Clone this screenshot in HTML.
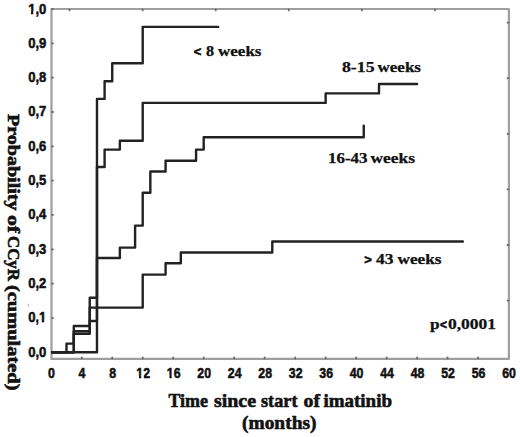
<!DOCTYPE html>
<html><head><meta charset="utf-8"><style>
html,body{margin:0;padding:0;background:#fff;}
body{width:520px;height:437px;overflow:hidden;}
svg{display:block;}
.sans{font-family:"Liberation Sans",sans-serif;font-weight:700;font-size:14.5px;fill:#111;stroke:#111;stroke-width:0.55px;stroke-linejoin:round;}
.serif{font-family:"Liberation Serif",serif;font-weight:700;fill:#111;stroke:#111;stroke-width:0.6px;stroke-linejoin:round;}
.serif text[font-size="13.8"]{stroke-width:0.25px;}
</style></head><body>
<svg width="520" height="437" viewBox="0 0 520 437">
<defs><clipPath id="cy1" clipPathUnits="userSpaceOnUse"><path clip-rule="evenodd" d="M-20,-30H60V20H-20Z M11.59,-2.4H15.17V2.5H11.59Z M17.77,-2.4H20.79V2.5H17.77Z"/></clipPath><clipPath id="cy10" clipPathUnits="userSpaceOnUse"><path clip-rule="evenodd" d="M-20,-30H60V20H-20Z M-0.50,-2.4H3.08V2.5H-0.50Z M5.68,-2.4H8.70V2.5H5.68Z"/></clipPath><clipPath id="cx12" clipPathUnits="userSpaceOnUse"><path clip-rule="evenodd" d="M-20,-30H60V20H-20Z M-0.50,-2.4H3.08V2.5H-0.50Z M5.68,-2.4H8.70V2.5H5.68Z"/></clipPath><clipPath id="cx16" clipPathUnits="userSpaceOnUse"><path clip-rule="evenodd" d="M-20,-30H60V20H-20Z M-0.50,-2.4H3.08V2.5H-0.50Z M5.68,-2.4H8.70V2.5H5.68Z"/></clipPath></defs>
<rect x="51.5" y="9.0" width="457.4" height="349.9" fill="none" stroke="#9e9e9e" stroke-width="2.2" stroke-linejoin="round"/>
<line x1="28.3" y1="303.8" x2="28.3" y2="306.6" stroke="#b0b0b0" stroke-width="1.1"/>
<g stroke="#6a6a6a" stroke-width="1.8" stroke-linecap="round"><line x1="52.0" x2="53.0" y1="352.25" y2="352.25"/><line x1="52.0" x2="53.0" y1="317.93" y2="317.93"/><line x1="52.0" x2="53.0" y1="283.60" y2="283.60"/><line x1="52.0" x2="53.0" y1="249.28" y2="249.28"/><line x1="52.0" x2="53.0" y1="214.95" y2="214.95"/><line x1="52.0" x2="53.0" y1="180.62" y2="180.62"/><line x1="52.0" x2="53.0" y1="146.30" y2="146.30"/><line x1="52.0" x2="53.0" y1="111.98" y2="111.98"/><line x1="52.0" x2="53.0" y1="77.65" y2="77.65"/><line x1="52.0" x2="53.0" y1="43.32" y2="43.32"/><line x1="52.0" x2="53.0" y1="9.00" y2="9.00"/><line x1="81.74" x2="81.74" y1="358.4" y2="357.5"/><line x1="112.23" x2="112.23" y1="358.4" y2="357.5"/><line x1="142.71" x2="142.71" y1="358.4" y2="357.5"/><line x1="173.20" x2="173.20" y1="358.4" y2="357.5"/><line x1="203.69" x2="203.69" y1="358.4" y2="357.5"/><line x1="234.18" x2="234.18" y1="358.4" y2="357.5"/><line x1="264.67" x2="264.67" y1="358.4" y2="357.5"/><line x1="295.15" x2="295.15" y1="358.4" y2="357.5"/><line x1="325.64" x2="325.64" y1="358.4" y2="357.5"/><line x1="356.13" x2="356.13" y1="358.4" y2="357.5"/><line x1="386.62" x2="386.62" y1="358.4" y2="357.5"/><line x1="417.11" x2="417.11" y1="358.4" y2="357.5"/><line x1="447.59" x2="447.59" y1="358.4" y2="357.5"/><line x1="478.08" x2="478.08" y1="358.4" y2="357.5"/><line x1="69.50" x2="69.50" y1="9.5" y2="10.4"/><line x1="142.60" x2="142.60" y1="9.5" y2="10.4"/><line x1="215.70" x2="215.70" y1="9.5" y2="10.4"/><line x1="288.80" x2="288.80" y1="9.5" y2="10.4"/><line x1="361.90" x2="361.90" y1="9.5" y2="10.4"/><line x1="435.00" x2="435.00" y1="9.5" y2="10.4"/><line x1="508.4" x2="507.5" y1="22.60" y2="22.60"/><line x1="508.4" x2="507.5" y1="78.20" y2="78.20"/><line x1="508.4" x2="507.5" y1="133.80" y2="133.80"/><line x1="508.4" x2="507.5" y1="189.40" y2="189.40"/><line x1="508.4" x2="507.5" y1="245.00" y2="245.00"/><line x1="508.4" x2="507.5" y1="300.60" y2="300.60"/></g>
<g fill="none" stroke="#222" stroke-width="2.4" stroke-linejoin="round" stroke-linecap="round">
<path d="M52.30,352.25 H96.98 V98.90 H104.60 V81.30 H112.23 V63.20 H142.71 V26.90 H218.17"/>
<path d="M52.30,352.25 H66.49 V343.60 H73.81 V326.00 H89.74 V297.70 H96.98 V167.00 H104.60 V149.60 H119.85 V140.70 H142.71 V102.90 H325.64 V93.40 H379.00 V84.00 H417.11"/>
<path d="M52.30,352.25 H73.81 V331.30 H89.74 V321.00 H96.98 V258.00 H119.85 V247.60 H135.09 V225.60 H142.71 V192.80 H150.34 V171.50 H165.58 V160.70 H196.07 V149.60 H203.69 V137.30 H363.75 V125.60"/>
<path d="M52.30,352.25 H73.81 V333.70 H89.74 V307.60 H142.71 V274.60 H165.58 V263.30 H180.82 V252.50 H272.29 V241.50 H462.84"/>
</g>
<g class="sans">
<text transform="translate(28.16,356.75) scale(0.9,1)">0,0</text>
<text transform="translate(28.16,322.43) scale(0.9,1)" clip-path="url(#cy1)">0,1</text>
<text transform="translate(28.16,288.10) scale(0.9,1)">0,2</text>
<text transform="translate(28.16,253.78) scale(0.9,1)">0,3</text>
<text transform="translate(28.16,219.45) scale(0.9,1)">0,4</text>
<text transform="translate(28.16,185.12) scale(0.9,1)">0,5</text>
<text transform="translate(28.16,150.80) scale(0.9,1)">0,6</text>
<text transform="translate(28.16,116.48) scale(0.9,1)">0,7</text>
<text transform="translate(28.16,82.15) scale(0.9,1)">0,8</text>
<text transform="translate(28.16,47.82) scale(0.9,1)">0,9</text>
<text transform="translate(28.16,13.50) scale(0.9,1)" clip-path="url(#cy10)">1,0</text>
<text transform="translate(48.02,378.00) scale(0.85,1)">0</text>
<text transform="translate(78.51,378.00) scale(0.85,1)">4</text>
<text transform="translate(109.30,378.00) scale(0.85,1)">8</text>
<text transform="translate(136.36,378.00) scale(0.85,1)" clip-path="url(#cx12)">12</text>
<text transform="translate(166.85,378.00) scale(0.85,1)" clip-path="url(#cx16)">16</text>
<text transform="translate(197.34,378.00) scale(0.85,1)">20</text>
<text transform="translate(227.82,378.00) scale(0.85,1)">24</text>
<text transform="translate(258.31,378.00) scale(0.85,1)">28</text>
<text transform="translate(288.80,378.00) scale(0.85,1)">32</text>
<text transform="translate(319.29,378.00) scale(0.85,1)">36</text>
<text transform="translate(349.78,378.00) scale(0.85,1)">40</text>
<text transform="translate(380.26,378.00) scale(0.85,1)">44</text>
<text transform="translate(410.75,378.00) scale(0.85,1)">48</text>
<text transform="translate(441.24,378.00) scale(0.85,1)">52</text>
<text transform="translate(471.73,378.00) scale(0.85,1)">56</text>
<text transform="translate(502.22,378.00) scale(0.85,1)">60</text>
</g>
<g class="serif">
<text x="168.48" y="406.50" font-size="19.3" textLength="39.55" lengthAdjust="spacingAndGlyphs">Time</text>
<text x="213.97" y="406.50" font-size="19.3" textLength="42.05" lengthAdjust="spacingAndGlyphs">since</text>
<text x="261.00" y="406.50" font-size="19.3" textLength="36.51" lengthAdjust="spacingAndGlyphs">start</text>
<text x="303.49" y="406.50" font-size="19.3" textLength="16.51" lengthAdjust="spacingAndGlyphs">of</text>
<text x="323.48" y="406.50" font-size="19.3" textLength="68.53" lengthAdjust="spacingAndGlyphs">imatinib</text>
<text x="241.98" y="428.70" font-size="19.3" textLength="74.53" lengthAdjust="spacingAndGlyphs">(months)</text>
<text transform="translate(8.10,113.99) rotate(90)" font-size="16.3" textLength="96.52" lengthAdjust="spacingAndGlyphs">Probability</text>
<text transform="translate(8.10,214.98) rotate(90)" font-size="16.3" textLength="18.02" lengthAdjust="spacingAndGlyphs">of</text>
<text transform="translate(8.10,235.99) rotate(90)" font-size="16.3" textLength="45.01" lengthAdjust="spacingAndGlyphs">CCyR</text>
<text transform="translate(8.10,284.98) rotate(90)" font-size="16.3" textLength="105.53" lengthAdjust="spacingAndGlyphs">(cumulated)</text>
<text x="205.91" y="56.20" font-size="13.8" textLength="8.09" lengthAdjust="spacingAndGlyphs">8</text>
<text x="218.00" y="56.20" font-size="13.8" textLength="43.50" lengthAdjust="spacingAndGlyphs">weeks</text>
<text x="341.99" y="71.90" font-size="13.8" textLength="32.53" lengthAdjust="spacingAndGlyphs">8-15</text>
<text x="377.49" y="71.90" font-size="13.8" textLength="43.51" lengthAdjust="spacingAndGlyphs">weeks</text>
<text x="327.95" y="163.40" font-size="13.8" textLength="39.59" lengthAdjust="spacingAndGlyphs">16-43</text>
<text x="370.49" y="163.40" font-size="13.8" textLength="44.52" lengthAdjust="spacingAndGlyphs">weeks</text>
<text x="376.00" y="264.40" font-size="13.8" textLength="17.53" lengthAdjust="spacingAndGlyphs">43</text>
<text x="397.49" y="264.40" font-size="13.8" textLength="44.01" lengthAdjust="spacingAndGlyphs">weeks</text>
<text x="429.92" y="329.00" font-size="13.8" textLength="9.62" lengthAdjust="spacingAndGlyphs">p</text>
<text x="447.99" y="329.00" font-size="13.8" textLength="48.05" lengthAdjust="spacingAndGlyphs">0,0001</text>
</g>
<g style="font-family:'Liberation Sans',sans-serif;font-weight:700;fill:#111;stroke:#111;stroke-width:0.55px;stroke-linejoin:round;">
<text x="193.84" y="56.15" font-size="13">&lt;</text>
<text x="364.14" y="263.8" font-size="13">&gt;</text>
<text x="440.09" y="328.87" font-size="12">&lt;</text>
</g>
</svg>
</body></html>
